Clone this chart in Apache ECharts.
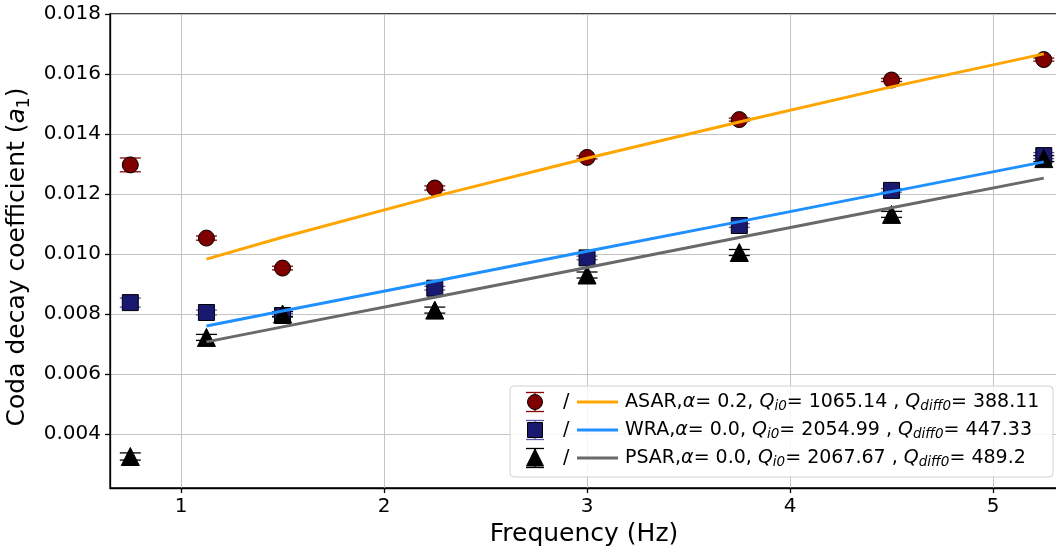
<!DOCTYPE html>
<html>
<head>
<meta charset="utf-8">
<script src="https://cdn.jsdelivr.net/npm/echarts@6/dist/echarts.min.js"></script>
<style>
  html, body { margin: 0; padding: 0; background: #fff; }
  #chart { width: 1056px; height: 550px; }
</style>
</head>
<body>
<div id="chart"></div>
<script>
// Frequencies (Hz) at which the coda decay coefficient was measured
const freqs = [0.75, 1.125, 1.5, 2.25, 3.0, 3.75, 4.5, 5.25];
// Frequencies used for the fitted curves
const fitFreqs = [1.125, 1.5, 2.25, 3.0, 3.75, 4.5, 5.25];

// Measured a1 and its uncertainty, per station
const asarA1  = [0.01297, 0.01053, 0.00953, 0.01220, 0.01322, 0.01448, 0.01580, 0.01648];
const asarErr = [0.00023, 0.00007, 0.00006, 0.00007, 0.00005, 0.00005, 0.00005, 0.00005];
const wraA1   = [0.00838, 0.00805, 0.00795, 0.00886, 0.00987, 0.01095, 0.01212, 0.01328];
const wraErr  = [0.00015, 0.00008, 0.00006, 0.00006, 0.00006, 0.00006, 0.00006, 0.00010];
const psarA1  = [0.00325, 0.00722, 0.00800, 0.00813, 0.00930, 0.01005, 0.01132, 0.01318];
const psarErr = [0.00012, 0.00010, 0.00008, 0.00010, 0.00010, 0.00010, 0.00010, 0.00010];

// Fitted a1 curves
const asarFit = [0.00983, 0.01056, 0.01192, 0.01319, 0.01440, 0.01557, 0.01667];
const wraFit  = [0.00760, 0.00810, 0.00909, 0.01009, 0.01108, 0.01208, 0.01307];
const psarFit = [0.00707, 0.00757, 0.00856, 0.00955, 0.01055, 0.01154, 0.01253];

// Fit parameters shown in the legend
const stations = ['ASAR', 'WRA', 'PSAR'];
const alphas   = ['0.2', '0.0', '0.0'];
const qi0      = ['1065.14', '2054.99', '2067.67'];
const qdiff0   = ['388.11', '447.33', '489.2'];

// Axis ticks
const xTicks = [1, 2, 3, 4, 5];
const yTicks = [0.004, 0.006, 0.008, 0.010, 0.012, 0.014, 0.016, 0.018];

const FONT = '"DejaVu Sans", sans-serif';
const pair = (xs, ys) => xs.map((x, i) => [x, ys[i]]);
const triple = (xs, ys, es) => xs.map((x, i) => [x, ys[i], es[i]]);

const styles = [
  { marker: 'circle',   size: 16, fill: '#800000', err: '#8b0000', line: '#ffa500' },
  { marker: 'rect',     size: 16, fill: '#191970', err: '#5a5aa8', line: '#1e90ff' },
  { marker: 'triangle', size: 18, fill: '#000000', err: '#000000', line: '#696969' }
];
const measured = [[asarA1, asarErr], [wraA1, wraErr], [psarA1, psarErr]];
const fitted = [asarFit, wraFit, psarFit];

function errorBars(color) {
  return function (params, api) {
    const x = api.value(0), y = api.value(1), e = api.value(2);
    const hi = api.coord([x, y + e]);
    const lo = api.coord([x, y - e]);
    const w = 10.5;
    const st = { stroke: color, lineWidth: 1.3 };
    return {
      type: 'group',
      children: [
        { type: 'line', shape: { x1: hi[0], y1: hi[1], x2: lo[0], y2: lo[1] }, style: st },
        { type: 'line', shape: { x1: hi[0] - w, y1: hi[1], x2: hi[0] + w, y2: hi[1] }, style: st },
        { type: 'line', shape: { x1: lo[0] - w, y1: lo[1], x2: lo[0] + w, y2: lo[1] }, style: st }
      ]
    };
  };
}

const series = [];
stations.forEach((name, k) => {
  const s = styles[k];
  series.push({
    type: 'custom',
    renderItem: errorBars(s.err),
    data: triple(freqs, measured[k][0], measured[k][1]),
    silent: true
  });
  series.push({
    type: 'scatter',
    name: name,
    data: pair(freqs, measured[k][0]),
    symbol: s.marker,
    symbolSize: s.size,
    itemStyle: { color: s.fill, borderColor: '#000', borderWidth: 1, opacity: 1 },
    silent: true
  });
  series.push({
    type: 'line',
    name: name + ' fit',
    data: pair(fitFreqs, fitted[k]),
    showSymbol: false,
    lineStyle: { color: s.line, width: 3 },
    silent: true
  });
});

// Legend box, drawn as graphic elements
const legendX = 510, legendY = 386, rowY0 = 402, rowStep = 28;
const legendEls = [{
  type: 'rect',
  shape: { x: legendX, y: legendY, width: 543, height: 91, r: 4 },
  style: { fill: 'rgba(255,255,255,0.85)', stroke: '#d0d0d0', lineWidth: 1 },
  z: 100
}];
stations.forEach((name, k) => {
  const s = styles[k];
  const cy = rowY0 + k * rowStep;
  const cx = 535;
  const capHalf = 9.5;
  const est = { stroke: s.err, lineWidth: 1.3 };
  legendEls.push({ type: 'line', shape: { x1: cx - 9, y1: cy - capHalf, x2: cx + 9, y2: cy - capHalf }, style: est, z: 101 });
  legendEls.push({ type: 'line', shape: { x1: cx - 9, y1: cy + capHalf, x2: cx + 9, y2: cy + capHalf }, style: est, z: 101 });
  legendEls.push({ type: 'line', shape: { x1: cx, y1: cy - capHalf, x2: cx, y2: cy + capHalf }, style: est, z: 101 });
  const mst = { fill: s.fill, stroke: '#000', lineWidth: 1 };
  if (s.marker === 'circle') {
    legendEls.push({ type: 'circle', shape: { cx: cx, cy: cy, r: 7.5 }, style: mst, z: 102 });
  } else if (s.marker === 'rect') {
    legendEls.push({ type: 'rect', shape: { x: cx - 7.5, y: cy - 7.5, width: 15, height: 15 }, style: mst, z: 102 });
  } else {
    legendEls.push({ type: 'polygon', shape: { points: [[cx, cy - 9], [cx - 8.5, cy + 8], [cx + 8.5, cy + 8]] }, style: mst, z: 102 });
  }
  legendEls.push({
    type: 'text', x: 563, y: cy,
    style: { text: '/', font: '19px ' + FONT, fill: '#000', verticalAlign: 'middle' }, z: 102
  });
  legendEls.push({ type: 'line', shape: { x1: 577, y1: cy, x2: 618, y2: cy }, style: { stroke: s.line, lineWidth: 3 }, z: 102 });
  legendEls.push({
    type: 'text', x: 625, y: cy,
    style: {
      text: '{n|' + name + ',}{i|α}{n|= ' + alphas[k] + ', }{i|Q}{s|i0}{n|= ' + qi0[k] +
            ' , }{i|Q}{s|diff0}{n|= ' + qdiff0[k] + '}',
      verticalAlign: 'middle',
      rich: {
        n: { fontFamily: FONT, fontSize: 19, color: '#000', lineHeight: 23 },
        i: { fontFamily: FONT, fontSize: 19, fontStyle: 'italic', color: '#000', lineHeight: 23 },
        s: { fontFamily: FONT, fontSize: 13.5, fontStyle: 'italic', color: '#000', lineHeight: 23, verticalAlign: 'bottom' }
      }
    },
    z: 102
  });
});

const chart = echarts.init(document.getElementById('chart'), null, { renderer: 'canvas' });
chart.setOption({
  animation: false,
  backgroundColor: '#fff',
  grid: {
    left: 110, top: 14, width: 948, height: 474,
    outerBoundsMode: 'none', containLabel: false,
    show: true, borderColor: '#000', borderWidth: 1.3, backgroundColor: 'transparent'
  },
  xAxis: {
    type: 'value', min: 0.65, max: 5.32,
    name: 'Frequency (Hz)', nameLocation: 'middle', nameGap: 31,
    nameTextStyle: { fontFamily: FONT, fontSize: 25, color: '#000' },
    axisLine: { lineStyle: { color: '#000', width: 1.3 } },
    axisTick: { show: true, inside: false, length: 5, lineStyle: { color: '#000', width: 1.3 }, customValues: xTicks },
    axisLabel: { customValues: xTicks, fontFamily: FONT, fontSize: 20, color: '#000', margin: 9, formatter: v => String(v) },
    splitLine: { show: true, lineStyle: { color: '#c4c4c4', width: 1 } }
  },
  yAxis: {
    type: 'value', min: 0.0022, max: 0.018,
    name: '{n|Coda decay coefficient (}{i|a}{s|1}{n|)}', nameLocation: 'middle', nameGap: 73, nameRotate: 90,
    nameTextStyle: {
      padding: [0, 12, 0, 0],
      rich: {
        n: { fontFamily: FONT, fontSize: 25, color: '#000', lineHeight: 30 },
        i: { fontFamily: FONT, fontSize: 25, fontStyle: 'italic', color: '#000', lineHeight: 30 },
        s: { fontFamily: FONT, fontSize: 17, color: '#000', lineHeight: 30, verticalAlign: 'bottom' }
      }
    },
    axisLine: { show: true, lineStyle: { color: '#000', width: 1.3 } },
    axisTick: { show: true, inside: false, length: 5, lineStyle: { color: '#000', width: 1.3 }, customValues: yTicks },
    axisLabel: { customValues: yTicks, fontFamily: FONT, fontSize: 20, color: '#000', margin: 9, formatter: v => v.toFixed(3) },
    splitLine: { show: true, lineStyle: { color: '#c4c4c4', width: 1 } }
  },
  series: series,
  graphic: { elements: legendEls }
});
</script>
</body>
</html>
